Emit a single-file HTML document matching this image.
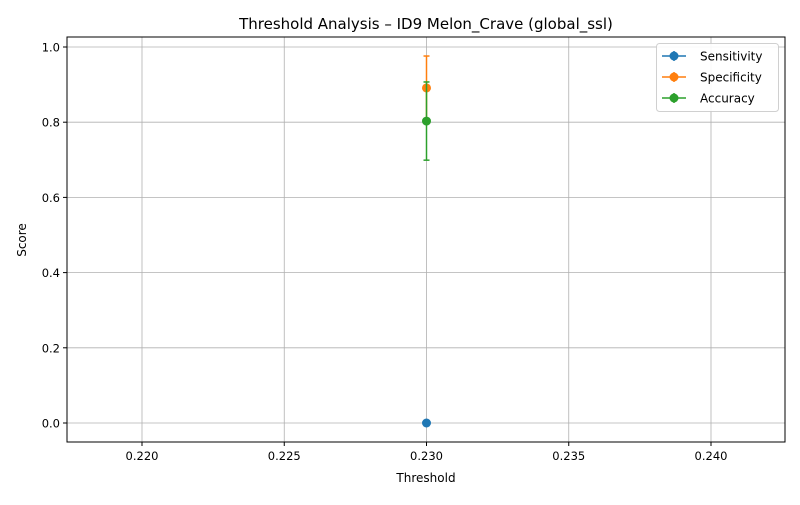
<!DOCTYPE html>
<html><head><meta charset="utf-8"><style>
body{margin:0;background:#fff;font-family:"Liberation Sans","DejaVu Sans",sans-serif;}
svg text{font-family:"DejaVu Sans","Liberation Sans",sans-serif;}
</style></head><body>
<svg id="chart" width="800" height="500" viewBox="0 0 800 500">
<rect width="800" height="500" fill="#fff"/>
<text x="426" y="29" font-size="15" text-anchor="middle" fill="#000">Threshold Analysis – ID9 Melon_Crave (global_ssl)</text>
<g id="grid"></g><g id="axes"></g><g id="marks"></g>
<text x="426" y="482" font-size="12" text-anchor="middle">Threshold</text>
<text x="0" y="0" font-size="12" text-anchor="middle" transform="translate(26,240) rotate(-90)">Score</text>
<g>
<rect x="656.5" y="43.5" width="122" height="68" rx="3" fill="#fff" stroke="#ccc" opacity="0.9"/>
</g>
<g id="legend"></g>
</svg>
<script>
const series = ["Sensitivity","Specificity","Accuracy"];
const colors = ["#1f77b4","#ff7f0e","#2ca02c"];
const thresholds = [0.230];
const sensitivity = [0.0];
const specificity = [0.891];
const accuracy = [0.803];
const sensErr = [0.0];
const specErr = [0.085];
const accErr = [0.104];
const xTicks = [0.220,0.225,0.230,0.235,0.240];
const yTicks = [0.0,0.2,0.4,0.6,0.8,1.0];
const L=67,R=785,T=37,B=442;
const x=v=>142+(v-0.220)/0.020*569;
const y=v=>423-v*376;
const NS="http://www.w3.org/2000/svg";
function mk(parent,tag,attrs){const e=document.createElementNS(NS,tag);for(const k in attrs)e.setAttribute(k,attrs[k]);document.getElementById(parent).appendChild(e);return e;}
xTicks.forEach(t=>{
 let g=mk("grid","line",{x1:x(t),x2:x(t),y1:T,y2:B,stroke:"#b0b0b0","stroke-width":0.8});
 
 
 mk("axes","line",{x1:x(t),x2:x(t),y1:B,y2:B+4,stroke:"#000"});
 let tx=mk("axes","text",{x:x(t),y:B+18,"font-size":11.5,"text-anchor":"middle"});tx.textContent=t.toFixed(3);
 
 
});
yTicks.forEach(t=>{
 let g=mk("grid","line",{x1:L,x2:R,y1:y(t),y2:y(t),stroke:"#b0b0b0","stroke-width":0.8});
 
 
 mk("axes","line",{x1:L-4,x2:L,y1:y(t),y2:y(t),stroke:"#000"});
 let tx=mk("axes","text",{x:L-7,y:y(t)+4.5,"font-size":11.5,"text-anchor":"end"});tx.textContent=t.toFixed(1);
 
 
});
let fr=mk("axes","rect",{x:L,y:T,width:R-L,height:B-T,fill:"none",stroke:"#000","stroke-width":1});


const vals=[sensitivity,specificity,accuracy], errs=[sensErr,specErr,accErr];
vals.forEach((vs,si)=>{
 vs.forEach((v,i)=>{
  const cx=x(thresholds[i]),e=errs[si][i];
  if(e>0){
   mk("marks","line",{x1:cx,x2:cx,y1:y(v-e),y2:y(v+e),stroke:colors[si],"stroke-width":1.5});
   [v-e,v+e].forEach(c=>mk("marks","line",{x1:cx-3,x2:cx+3,y1:y(c),y2:y(c),stroke:colors[si],"stroke-width":1.5}));
  }
  let p=mk("marks","circle",{cx:cx,cy:y(v),r:4.5,fill:colors[si]});
  
  
 });
});
series.forEach((s,i)=>{
 const yy=56+i*21;
 mk("legend","line",{x1:662,x2:686,y1:yy,y2:yy,stroke:colors[i],"stroke-width":1.5});
 mk("legend","line",{x1:674,x2:674,y1:yy-5,y2:yy+5,stroke:colors[i],"stroke-width":1.5});
 mk("legend","circle",{cx:674,cy:yy,r:4.5,fill:colors[i]});
 let t=mk("legend","text",{x:700,y:yy+4.5,"font-size":12});t.textContent=s;
 
 
});
</script>
</body></html>
